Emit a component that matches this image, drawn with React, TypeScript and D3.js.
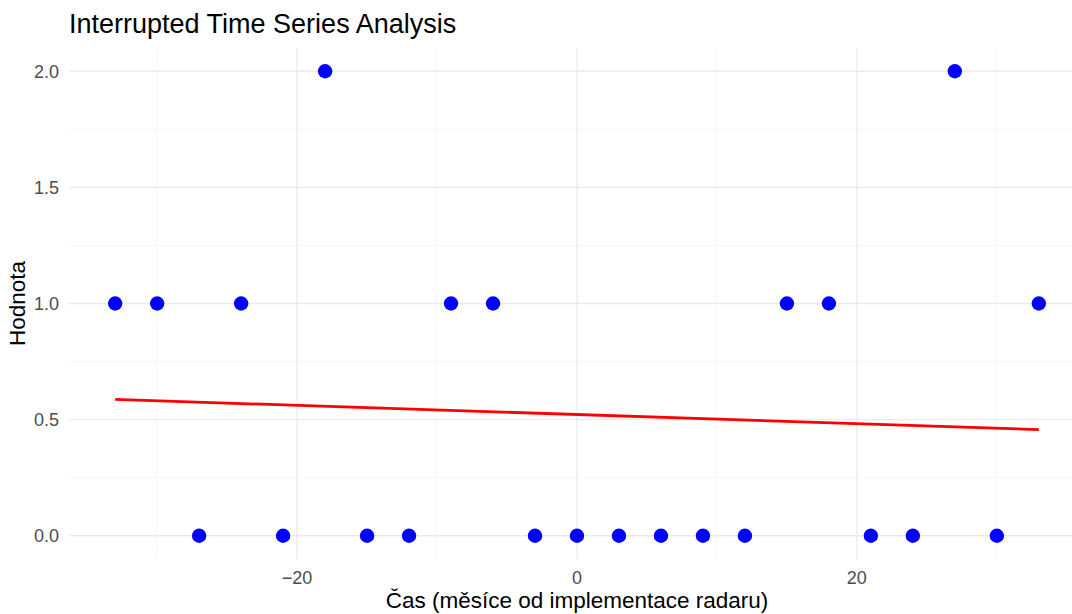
import React from "react";
import * as d3 from "d3";

const months = [-33, -30, -27, -24, -21, -18, -15, -12, -9, -6, -3, 0, 3, 6, 9, 12, 15, 18, 21, 24, 27, 30, 33];
const values = [1, 1, 0, 1, 0, 2, 0, 0, 1, 1, 0, 0, 0, 0, 0, 0, 1, 1, 0, 0, 2, 0, 1];
const trendX = [-33, 33];
const trendY = [0.587, 0.457];
const xTicks = [-20, 0, 20];
const xMinor = [-30, -10, 10, 30];
const yTicks = [0, 0.5, 1, 1.5, 2];
const yMinor = [0.25, 0.75, 1.25, 1.75];

const W = 1072;
const H = 614;
const left = 69;
const right = 1085;
const top = 48;
const bottom = 559;

export default function App() {
  const x = d3.scaleLinear().domain([-36.3, 36.3]).range([left, right]);
  const y = d3.scaleLinear().domain([-0.1, 2.1]).range([bottom, top]);
  const line = d3
    .line<number>()
    .x((_, i) => x(trendX[i]))
    .y((d) => y(d));
  const font = "'Liberation Sans', Arial, sans-serif";
  const fmtX = (v: number) => (v < 0 ? "\u2212" + Math.abs(v) : String(v));
  return (
    <svg width={W} height={H} style={{ position: "absolute", left: 0, top: 0, background: "#fff" }}>
      <rect width={W} height={H} fill="#fff" />
      {yMinor.map((v) => (
        <line key={"ym" + v} x1={left} x2={right} y1={y(v)} y2={y(v)} stroke="#f4f4f4" strokeWidth={0.8} />
      ))}
      {xMinor.map((v) => (
        <line key={"xm" + v} x1={x(v)} x2={x(v)} y1={top} y2={bottom} stroke="#f4f4f4" strokeWidth={0.8} />
      ))}
      {yTicks.map((v) => (
        <line key={"y" + v} x1={left} x2={right} y1={y(v)} y2={y(v)} stroke="#ebebeb" strokeWidth={1.3} />
      ))}
      {xTicks.map((v) => (
        <line key={"x" + v} x1={x(v)} x2={x(v)} y1={top} y2={bottom} stroke="#ebebeb" strokeWidth={1.3} />
      ))}
      {months.map((m, i) => (
        <circle key={"p" + i} cx={x(m)} cy={y(values[i])} r={7.2} fill="#0000ff" />
      ))}
      <path d={line(trendY) || ""} stroke="#ff0000" strokeWidth={2.8} fill="none" />
      {yTicks.map((v) => (
        <text key={"yl" + v} x={59} y={y(v)} dy="0.36em" textAnchor="end" fontFamily={font} fontSize={18} fill="#4d4d4d">
          {d3.format(".1f")(v)}
        </text>
      ))}
      {xTicks.map((v) => (
        <text key={"xl" + v} x={x(v)} y={584} textAnchor="middle" fontFamily={font} fontSize={18} fill="#4d4d4d">
          {fmtX(v)}
        </text>
      ))}
      <text x={(left + right) / 2} y={608} textAnchor="middle" fontFamily={font} fontSize={22.5} fill="#000">
        Čas (měsíce od implementace radaru)
      </text>
      <text
        transform={`translate(${25},${(top + bottom) / 2}) rotate(-90)`}
        textAnchor="middle"
        fontFamily={font}
        fontSize={22.5}
        fill="#000"
      >
        Hodnota
      </text>
      <text x={left} y={33} fontFamily={font} fontSize={27} fill="#000">
        Interrupted Time Series Analysis
      </text>
    </svg>
  );
}
